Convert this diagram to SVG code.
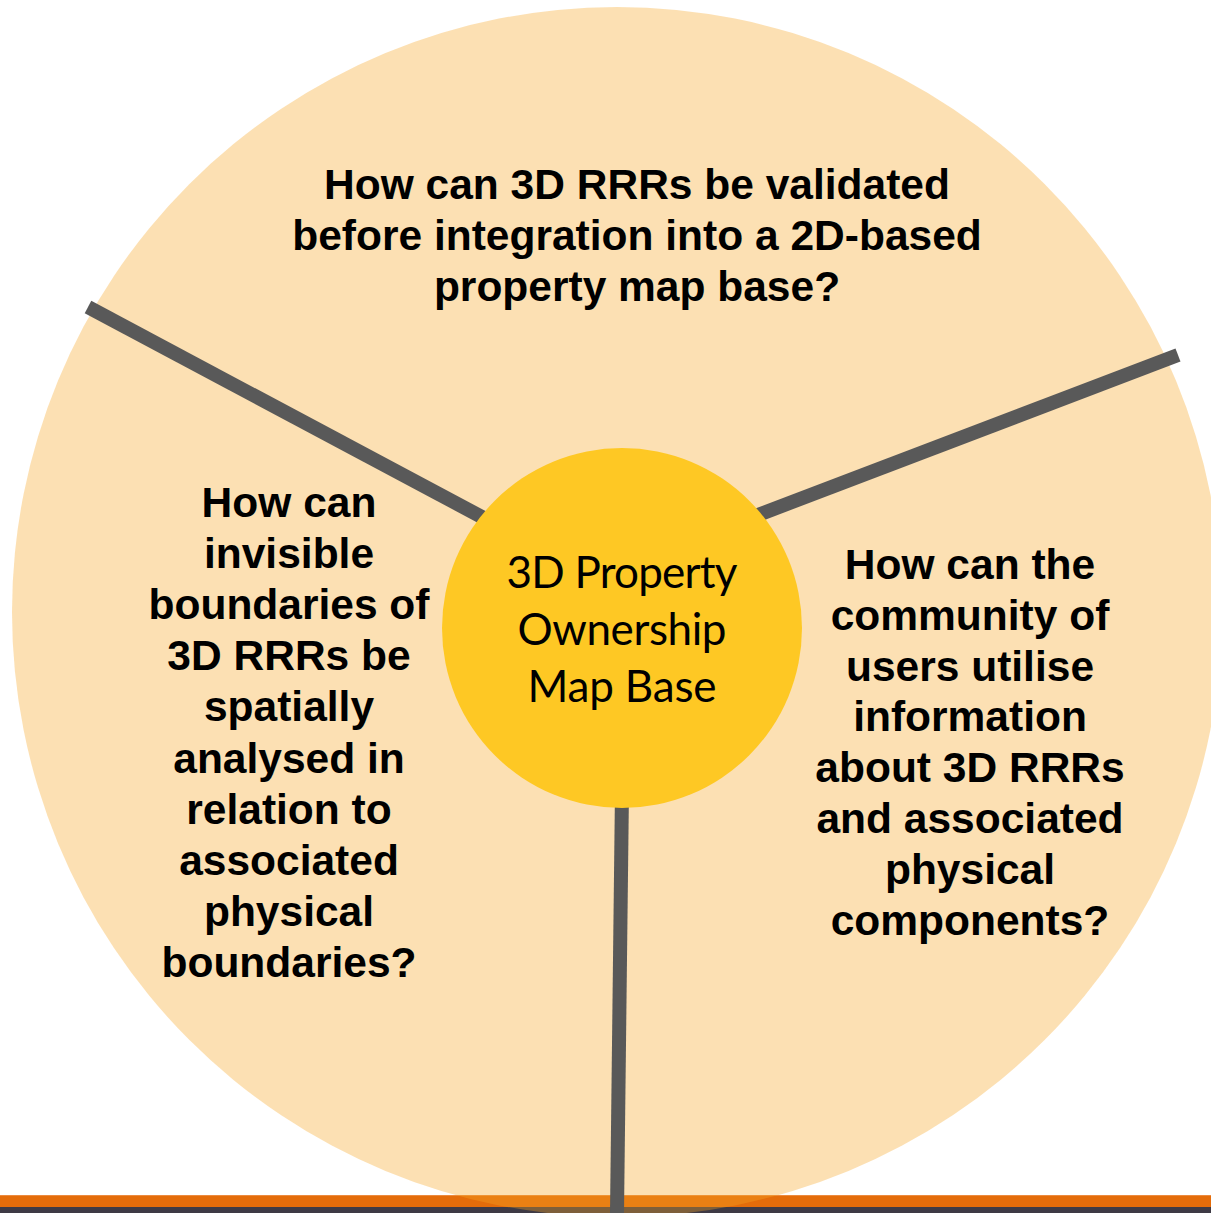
<svg xmlns="http://www.w3.org/2000/svg" width="1211" height="1213" viewBox="0 0 1211 1213">
<style>
.q{font-family:"Liberation Sans",Arial,sans-serif;font-weight:bold;font-size:42.5px;fill:#000;text-anchor:middle}
.c{font-family:Lato,"Open Sans",sans-serif;font-size:44px;fill:#000;text-anchor:middle}
.ln{stroke:#595959;stroke-width:14;fill:none}
</style>
<rect width="1211" height="1213" fill="#fff"/>
<g id="bands">
<rect x="0" y="1195" width="1211" height="12" fill="#E46C0A"/>
<rect x="0" y="1195" width="1211" height="1" fill="#EC8A3E"/>
<rect x="0" y="1207" width="1211" height="6" fill="#3E3A45"/>
</g>
<g id="outer">
<circle cx="617" cy="612" r="605" fill="#F6A625" fill-opacity="0.35"/>
</g>
<g id="connectors">
<line class="ln" x1="88" y1="307" x2="495" y2="524"/>
<line class="ln" x1="1178" y1="355" x2="750" y2="518"/>
<line class="ln" x1="622" y1="790" x2="617" y2="1213"/>
</g>
<g id="center">
<circle cx="622" cy="628" r="180" fill="#FEC824"/>
<text class="c" x="622" y="588" textLength="231">3D Property</text>
<text class="c" x="622" y="645" textLength="209">Ownership</text>
<text class="c" x="622" y="702" textLength="189">Map Base</text>
</g>
<g id="top-question">
<text class="q" x="637" y="199">How can 3D RRRs be validated</text>
<text class="q" x="637" y="250">before integration into a 2D-based</text>
<text class="q" x="637" y="301">property map base?</text>
</g>
<g id="left-question">
<text class="q" x="289" y="517">How can</text>
<text class="q" x="289" y="568">invisible</text>
<text class="q" x="289" y="619">boundaries of</text>
<text class="q" x="289" y="670">3D RRRs be</text>
<text class="q" x="289" y="721">spatially</text>
<text class="q" x="289" y="773">analysed in</text>
<text class="q" x="289" y="824">relation to</text>
<text class="q" x="289" y="875">associated</text>
<text class="q" x="289" y="926">physical</text>
<text class="q" x="289" y="977">boundaries?</text>
</g>
<g id="right-question">
<text class="q" x="970" y="579">How can the</text>
<text class="q" x="970" y="630">community of</text>
<text class="q" x="970" y="681">users utilise</text>
<text class="q" x="970" y="731">information</text>
<text class="q" x="970" y="782">about 3D RRRs</text>
<text class="q" x="970" y="833">and associated</text>
<text class="q" x="970" y="884">physical</text>
<text class="q" x="970" y="935">components?</text>
</g>
</svg>
